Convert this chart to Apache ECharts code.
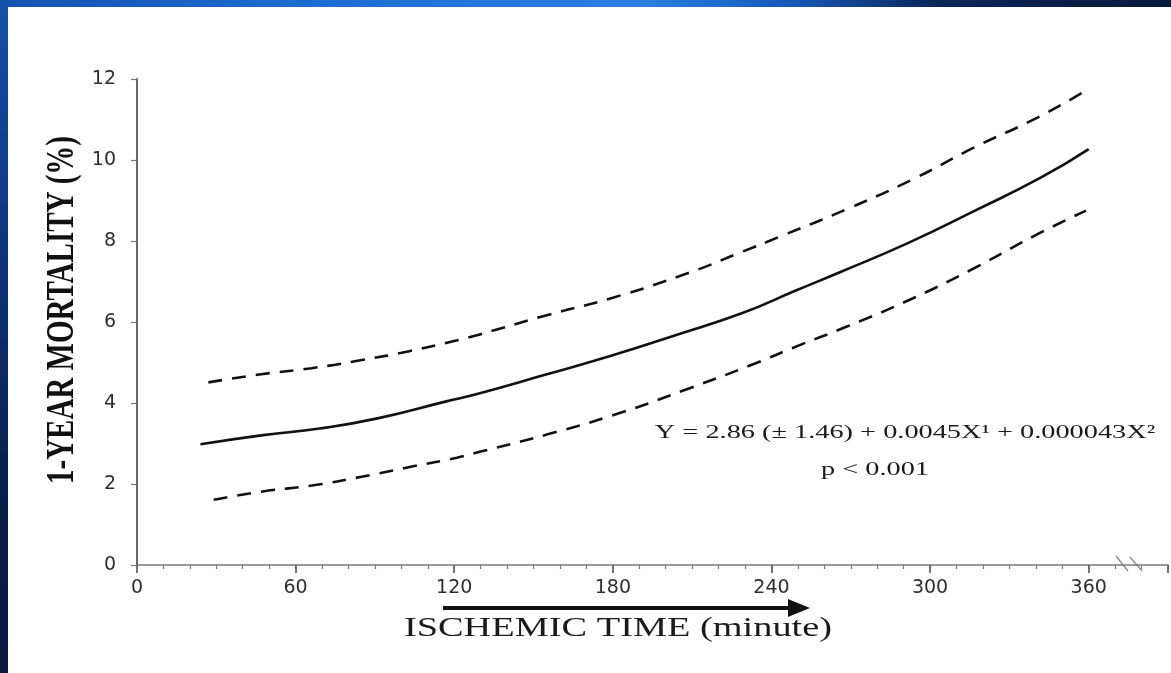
<!DOCTYPE html>
<html><head><meta charset="utf-8">
<script src="https://cdn.jsdelivr.net/npm/echarts@6/dist/echarts.min.js"></script>
<style>
html,body{margin:0;padding:0;width:1171px;height:673px;overflow:hidden;background:#fff;}
#top{position:absolute;left:0;top:0;width:1171px;height:7px;background:linear-gradient(90deg,#1552b0 0%,#1f6fd3 30%,#2a80e0 55%,#1656b5 68%,#0b2659 80%,#0a1a3c 100%);}
#left{position:absolute;left:0;top:0;width:8px;height:673px;background:linear-gradient(180deg,#1450a8 0%,#0d3680 35%,#0a1f4d 70%,#0a1a3e 100%);}
#chart{position:absolute;left:0;top:0;width:1171px;height:673px;}
</style></head>
<body><div id="top"></div><div id="left"></div><div id="chart"></div>
<script>
// tick labels
const xTickLabels = [0, 60, 120, 180, 240, 300, 360];
const yTickLabels = [0, 2, 4, 6, 8, 10, 12];
// fitted curve (solid)
const fitX = [24, 47, 69, 91, 117, 129, 154, 179, 204, 229, 249, 267, 292, 317, 342, 360];
const fitY = [2.98, 3.20, 3.37, 3.62, 4.04, 4.23, 4.69, 5.16, 5.68, 6.22, 6.77, 7.26, 7.96, 8.75, 9.57, 10.27];
// upper confidence band (dashed)
const upperX = [27, 47, 66, 85, 103, 120, 130, 154, 180, 209, 228, 244, 269, 294, 317, 341, 358];
const upperY = [4.51, 4.71, 4.86, 5.06, 5.28, 5.53, 5.70, 6.15, 6.60, 7.22, 7.71, 8.13, 8.80, 9.54, 10.32, 11.06, 11.68];
// lower confidence band (dashed)
const lowerX = [29, 47, 68, 85, 104, 121, 130, 155, 182, 208, 234, 248, 269, 294, 317, 341, 359];
const lowerY = [1.61, 1.81, 1.98, 2.18, 2.43, 2.65, 2.80, 3.22, 3.74, 4.34, 4.98, 5.36, 5.90, 6.60, 7.34, 8.18, 8.75];

const yTitle = '1-YEAR MORTALITY (%)';
const xTitle = 'ISCHEMIC TIME (minute)';
const equation = 'Y = 2.86 (\u00B1 1.46) + 0.0045X\u00B9 + 0.000043X\u00B2';
const pText = 'p < 0.001';

const zip = (xs, ys) => xs.map((x, i) => [x, ys[i]]);

const chart = echarts.init(document.getElementById('chart'), null, {renderer: 'canvas'});
const labelFont = {fontFamily: '"DejaVu Sans", sans-serif', fontSize: 19, color: '#2e2e2e'};
const lineColor = '#111';

chart.setOption({
  backgroundColor: 'transparent',
  animation: false,
  grid: {left: 137, top: 79, right: -4, bottom: 108, containLabel: false},
  xAxis: [{
    type: 'value', min: 0, max: 390, interval: 10,
    axisLine: {show: true, lineStyle: {color: '#7a7a7a', width: 1.5}},
    axisTick: {show: true, length: 4, lineStyle: {color: '#7a7a7a', width: 1.2}},
    axisLabel: Object.assign({margin: 14, formatter: v => xTickLabels.includes(v) ? String(v) : ''}, labelFont),
    splitLine: {show: false}
  }, {
    type: 'value', min: 0, max: 390, interval: 60, position: 'bottom',
    axisLine: {show: false},
    axisTick: {show: true, length: 8, lineStyle: {color: '#666', width: 1.8}},
    axisLabel: {show: false},
    splitLine: {show: false}
  }],
  yAxis: {
    type: 'value', min: 0, max: 12, interval: 2,
    axisLine: {show: true, lineStyle: {color: '#666', width: 2}},
    axisTick: {show: true, length: 6, lineStyle: {color: '#777', width: 1.2}},
    axisLabel: Object.assign({margin: 21, formatter: v => yTickLabels.includes(v) ? String(v) : ''}, labelFont),
    splitLine: {show: false}
  },
  series: [
    {type: 'line', name: 'fit', data: zip(fitX, fitY), smooth: true, showSymbol: false,
     lineStyle: {color: lineColor, width: 2.6}},
    {type: 'line', name: 'upper', data: zip(upperX, upperY), smooth: true, showSymbol: false,
     lineStyle: {color: lineColor, width: 2.6, type: [14, 10]}},
    {type: 'line', name: 'lower', data: zip(lowerX, lowerY), smooth: true, showSymbol: false,
     lineStyle: {color: lineColor, width: 2.6, type: [14, 10]}}
  ],
  graphic: [
    {type: 'text', x: 63, y: 310, rotation: Math.PI / 2, scaleY: 1.35,
     style: {text: yTitle, font: 'bold 29px "Liberation Serif", serif', fill: '#111', textAlign: 'center', textVerticalAlign: 'middle'}},
    {type: 'text', x: 618, y: 629, scaleX: 1.42,
     style: {text: xTitle, font: '27px "Liberation Serif", serif', fill: '#1a1a1a', textAlign: 'center', textVerticalAlign: 'middle'}},
    {type: 'line', shape: {x1: 443, y1: 608, x2: 792, y2: 608}, style: {stroke: '#111', lineWidth: 4}},
    {type: 'polygon', shape: {points: [[788, 599], [810, 608], [788, 617]]}, style: {fill: '#111'}},
    {type: 'text', x: 905, y: 433, scaleX: 1.49,
     style: {text: equation, font: '19px "Liberation Serif", serif', fill: '#1a1a1a', textAlign: 'center', textVerticalAlign: 'middle'}},
    {type: 'text', x: 875, y: 470, scaleX: 1.49,
     style: {text: pText, font: '19px "Liberation Serif", serif', fill: '#1a1a1a', textAlign: 'center', textVerticalAlign: 'middle'}},
    {type: 'line', shape: {x1: 1116, y1: 556, x2: 1128, y2: 571}, style: {stroke: '#888', lineWidth: 1.3}},
    {type: 'line', shape: {x1: 1130, y1: 557, x2: 1142, y2: 571}, style: {stroke: '#888', lineWidth: 1.3}}
  ]
});
</script>
</body></html>
